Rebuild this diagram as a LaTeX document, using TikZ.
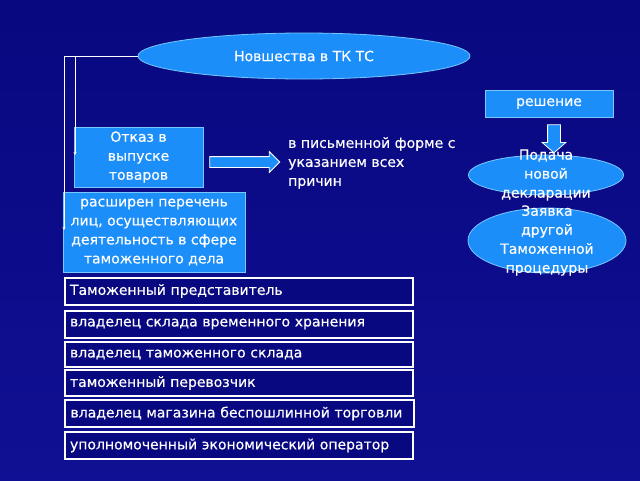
\documentclass[tikz,border=0pt]{standalone}
\usepackage{fontspec}
\setmainfont{DejaVu Sans}[FakeBold=0.4]
\usetikzlibrary{shapes.geometric,shapes.arrows,arrows.meta,positioning,calc}
\definecolor{navy}{RGB}{8,8,128}
\definecolor{navylo}{RGB}{16,16,148}
\definecolor{skyb}{RGB}{28,142,250}
\definecolor{skyrim}{RGB}{120,200,255}

\begin{document}
\begin{tikzpicture}[x=1pt,y=-1pt,font=\fontsize{14}{19}\selectfont,
 bluebox/.style={draw=skyrim,line width=0.8pt,fill=skyb,text=white,
  align=center,inner sep=0pt},
 bluell/.style={ellipse,draw=skyrim,line width=0.8pt,fill=skyb,inner sep=0pt},
 roleb/.style={draw=white,line width=2pt,fill=navy,text=white,anchor=west,
  minimum height=26,text width=338,inner xsep=5,align=left},
 fatarrow/.style={single arrow,draw=white,line width=0.8pt,fill=skyb,
  inner xsep=0pt},
 wline/.style={draw=white,line width=0.7pt},
 wtext/.style={text=white,align=center,inner sep=0pt},
 ]
 \def\listx{64}
 % background
 \shade[top color=navy,bottom color=navylo] (0,0) rectangle (640,480);
 \useasboundingbox (0,0) rectangle (640,480);

 % left column
 \node[bluell,minimum width=332,minimum height=46,text=white] (news) at (304,56)
  {Новшества в ТК ТС};
 \node[bluebox,minimum width=129,minimum height=60] (refusal) at (138.5,157)
  {Отказ в\\выпуске\\товаров};
 \node[bluebox,minimum width=182,minimum height=80] (list) at (154,232)
  {расширен перечень\\лиц, осуществляющих\\деятельность в сфере\\таможенного дела};
 \node[fatarrow,minimum height=70,inner ysep=5pt,single arrow head extend=5pt,
  single arrow tip angle=90] (refarrow) at (242,162) {};
 \node[text=white,align=left,anchor=north west,inner sep=0pt] (reason) at (288,137)
  {в письменной форме с\\указанием всех\\причин};

 \coordinate (tipA) at (64,230);
 \coordinate (tipB) at (75,155);
 \draw[wline,-{Stealth[length=3pt,width=3pt]}] (news.west) -| (tipA);
 \draw[wline,-{Stealth[length=3pt,width=3pt]}] (news.west -| tipB) -- (tipB);

 % list of persons
 \foreach \Y/\W/\H/\T [count=\i] in {
  291/348/27/Таможенный представитель,
  324/348/27/владелец склада временного хранения,
  354.5/348/25/владелец таможенного склада,
  383/348/26/таможенный перевозчик,
  413.5/349/27/владелец магазина беспошлинной торговли,
  445.5/348/27/уполномоченный экономический оператор}
 {\node[roleb,minimum width=\W,minimum height=\H] (role-\i) at (\listx,\Y) {\T};}

 % right column
 \node[bluebox,minimum width=128,minimum height=27] (decision) at (549,103.5) {решение};
 \node[fatarrow,minimum height=28,inner ysep=6pt,single arrow head extend=5.5pt,
  single arrow tip angle=98,rotate=-90] (decarrow) at (554,136) {};
 \node[bluell,minimum width=155,minimum height=40] (filing) at (546,175) {};
 \node[wtext] (filing-txt) at (filing) {Подача\\новой\\декларации};
 \node[bluell,minimum width=158,minimum height=65] (procedure) at (547,240.5) {};
 \node[wtext] (procedure-txt) at (procedure) {Заявка\\другой\\Таможенной\\процедуры};
\end{tikzpicture}
\end{document}
